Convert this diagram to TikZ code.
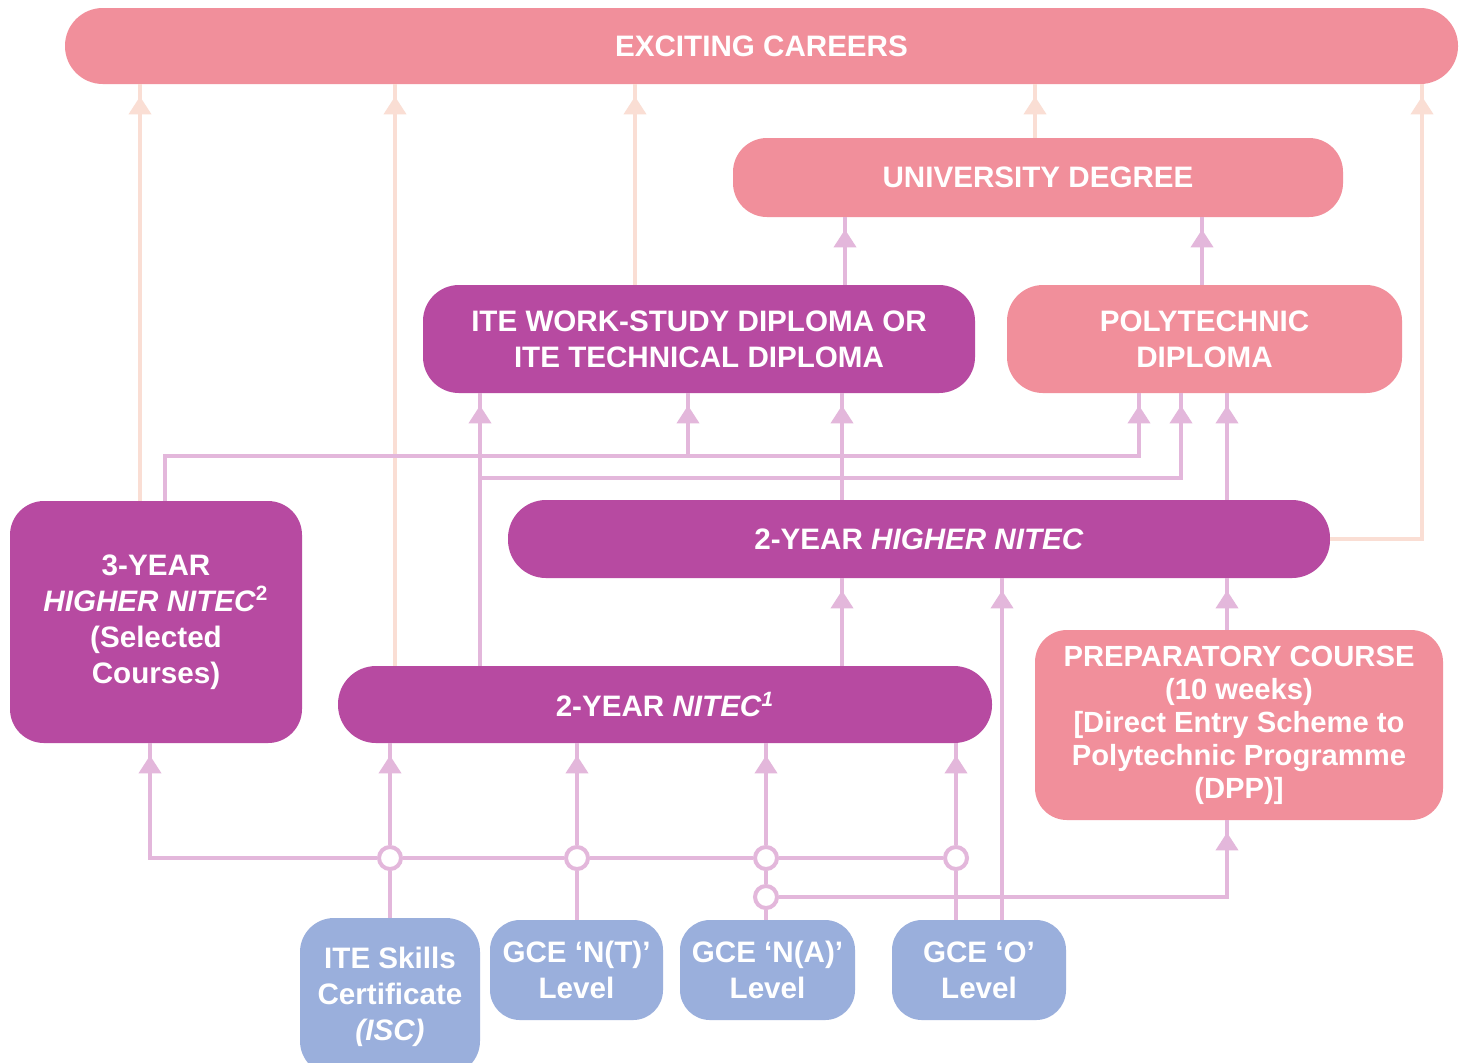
\documentclass[tikz,border=0pt]{standalone}
\usepackage{fontspec}
\setmainfont{Liberation Sans}
\usetikzlibrary{arrows.meta,decorations.markings}
\definecolor{pinkbox}{RGB}{241,143,155}
\definecolor{magbox}{RGB}{183,74,161}
\definecolor{bluebox}{RGB}{154,175,220}
\definecolor{lilac}{RGB}{227,183,219}
\definecolor{peach}{RGB}{250,222,212}
\begin{document}
\begin{tikzpicture}[x=0.5pt,y=-0.5pt,
  box/.style={draw=none, text=white, font=\fontsize{14.8}{18}\selectfont\bfseries, align=center, inner sep=0pt},
  pinkb/.style={box, fill=pinkbox},
  magb/.style={box, fill=magbox},
  blueb/.style={box, fill=bluebox},
  link/.style={draw=#1, line width=2pt, postaction={decorate},
    decoration={markings, mark=at position -6pt with {\arrow[#1]{Triangle[width=11pt,length=9pt]}}}},
  conn/.style={link=lilac},
  carr/.style={link=peach},
  plain/.style={draw=lilac, line width=2pt},
  junc/.style={circle, draw=lilac, fill=white, line width=2pt, minimum size=11pt, inner sep=0pt}]
\useasboundingbox (0,0) rectangle (1459,1062);
\clip (0,0) rectangle (1459,1062);
\fill[white] (0,0) rectangle (1459,1062);

% boxes
\node[pinkb, minimum width=696.5pt, minimum height=38pt, rounded corners=18.9pt] (careers) at (761.5,46) {EXCITING CAREERS};
\node[pinkb, minimum width=305pt, minimum height=39.5pt, rounded corners=17pt] (univ) at (1038,177.5) {UNIVERSITY DEGREE};
\node[magb, minimum width=276pt, minimum height=54pt, rounded corners=18pt] (dip) at (699,339) {ITE WORK-STUDY DIPLOMA OR\\ITE TECHNICAL DIPLOMA};
\node[pinkb, minimum width=197.5pt, minimum height=54pt, rounded corners=18pt] (poly) at (1204.5,339) {POLYTECHNIC\\DIPLOMA};
\node[magb, minimum width=146pt, minimum height=121pt, rounded corners=17pt] (three) at (156,622) {3-YEAR\\\textit{HIGHER NITEC}\textsuperscript{2}\\(Selected\\Courses)};
\node[magb, minimum width=411pt, minimum height=39pt, rounded corners=19pt] (hnitec) at (919,539) {2-YEAR \textit{HIGHER NITEC}};
\node[pinkb, minimum width=204pt, minimum height=95pt, rounded corners=16pt, font=\fontsize{14.6}{16.5}\selectfont\bfseries] (prep) at (1239,725) {PREPARATORY COURSE\\(10 weeks)\\{[}Direct Entry Scheme to\\Polytechnic Programme\\(DPP){]}};
\node[magb, minimum width=327pt, minimum height=38.5pt, rounded corners=19pt] (nitec) at (665,704.5) {2-YEAR \textit{NITEC}\textsuperscript{\textit{1}}};
\node[blueb, minimum width=90pt, minimum height=78.5pt, rounded corners=17pt] (isc) at (390,996.5) {ITE Skills\\Certificate\\\textit{(ISC)}};
\node[blueb, minimum width=86.5pt, minimum height=50pt, rounded corners=15pt] (nt) at (576.5,970) {GCE ‘N(T)’\\Level};
\node[blueb, minimum width=87.5pt, minimum height=50pt, rounded corners=15pt] (na) at (767.5,970) {GCE ‘N(A)’\\Level};
\node[blueb, minimum width=87pt, minimum height=50pt, rounded corners=15pt] (gceo) at (979,970) {GCE ‘O’\\Level};

% columns and rows
\coordinate (c140) at (140,0);
\coordinate (c150) at (150,0);
\coordinate (c165) at (165,0);
\coordinate (c395) at (395,0);
\coordinate (c480) at (480,0);
\coordinate (c635) at (635,0);
\coordinate (c688) at (688,0);
\coordinate (c842) at (842,0);
\coordinate (c845) at (845,0);
\coordinate (c1002) at (1002,0);
\coordinate (c1035) at (1035,0);
\coordinate (c1139) at (1139,0);
\coordinate (c1181) at (1181,0);
\coordinate (c1202) at (1202,0);
\coordinate (c1227) at (1227,0);
\coordinate (c1422) at (1422,0);
\coordinate (r456) at (0,456);
\coordinate (r478) at (0,478);

% junctions
\node[junc] (j390) at (390,858) {};
\node[junc] (j577) at (577,858) {};
\node[junc] (j766) at (766,858) {};
\node[junc] (j956) at (956,858) {};
\node[junc] (j766b) at (766,897) {};

% careers arrows
\draw[carr] (three.north -| c140) -- (careers.south -| c140);
\draw[carr] (nitec.north -| c395) -- (careers.south -| c395);
\draw[carr] (dip.north -| c635) -- (careers.south -| c635);
\draw[carr] (univ.north -| c1035) -- (careers.south -| c1035);
\draw[carr] (hnitec.east) -- (hnitec.east -| c1422) -- (careers.south -| c1422);

% bottom connectors
\draw[plain] (isc.north -| j390) -- (j390);
\draw[conn] (j390) -- (nitec.south -| j390);
\draw[conn] (j390) -- (j390 -| c150) -- (three.south -| c150);
\draw[plain] (j390) -- (j577);
\draw[plain] (j577) -- (j766);
\draw[plain] (j766) -- (j956);
\draw[plain] (nt.north -| j577) -- (j577);
\draw[conn] (j577) -- (nitec.south -| j577);
\draw[plain] (na.north -| j766b) -- (j766b);
\draw[plain] (j766b) -- (j766);
\draw[conn] (j766) -- (nitec.south -| j766);
\draw[conn] (j766b) -- (j766b -| c1227) -- (prep.south -| c1227);
\draw[plain] (gceo.north -| j956) -- (j956);
\draw[conn] (j956) -- (nitec.south -| j956);
\draw[conn] (gceo.north -| c1002) -- (hnitec.south -| c1002);

% middle connectors
\draw[conn] (nitec.north -| c842) -- (hnitec.south -| c842);
\draw[conn] (prep.north -| c1227) -- (hnitec.south -| c1227);
\draw[conn] (nitec.north -| c480) -- (dip.south -| c480);
\draw[conn] (c480 |- r478) -- (r478 -| c1181) -- (poly.south -| c1181);
\draw[conn] (three.north -| c165) -- (c165 |- r456) -- (r456 -| c1139) -- (poly.south -| c1139);
\draw[conn] (c688 |- r456) -- (dip.south -| c688);
\draw[conn] (hnitec.north -| c842) -- (dip.south -| c842);
\draw[conn] (hnitec.north -| c1227) -- (poly.south -| c1227);

% upper connectors
\draw[conn] (dip.north -| c845) -- (univ.south -| c845);
\draw[conn] (poly.north -| c1202) -- (univ.south -| c1202);
\end{tikzpicture}
\end{document}
